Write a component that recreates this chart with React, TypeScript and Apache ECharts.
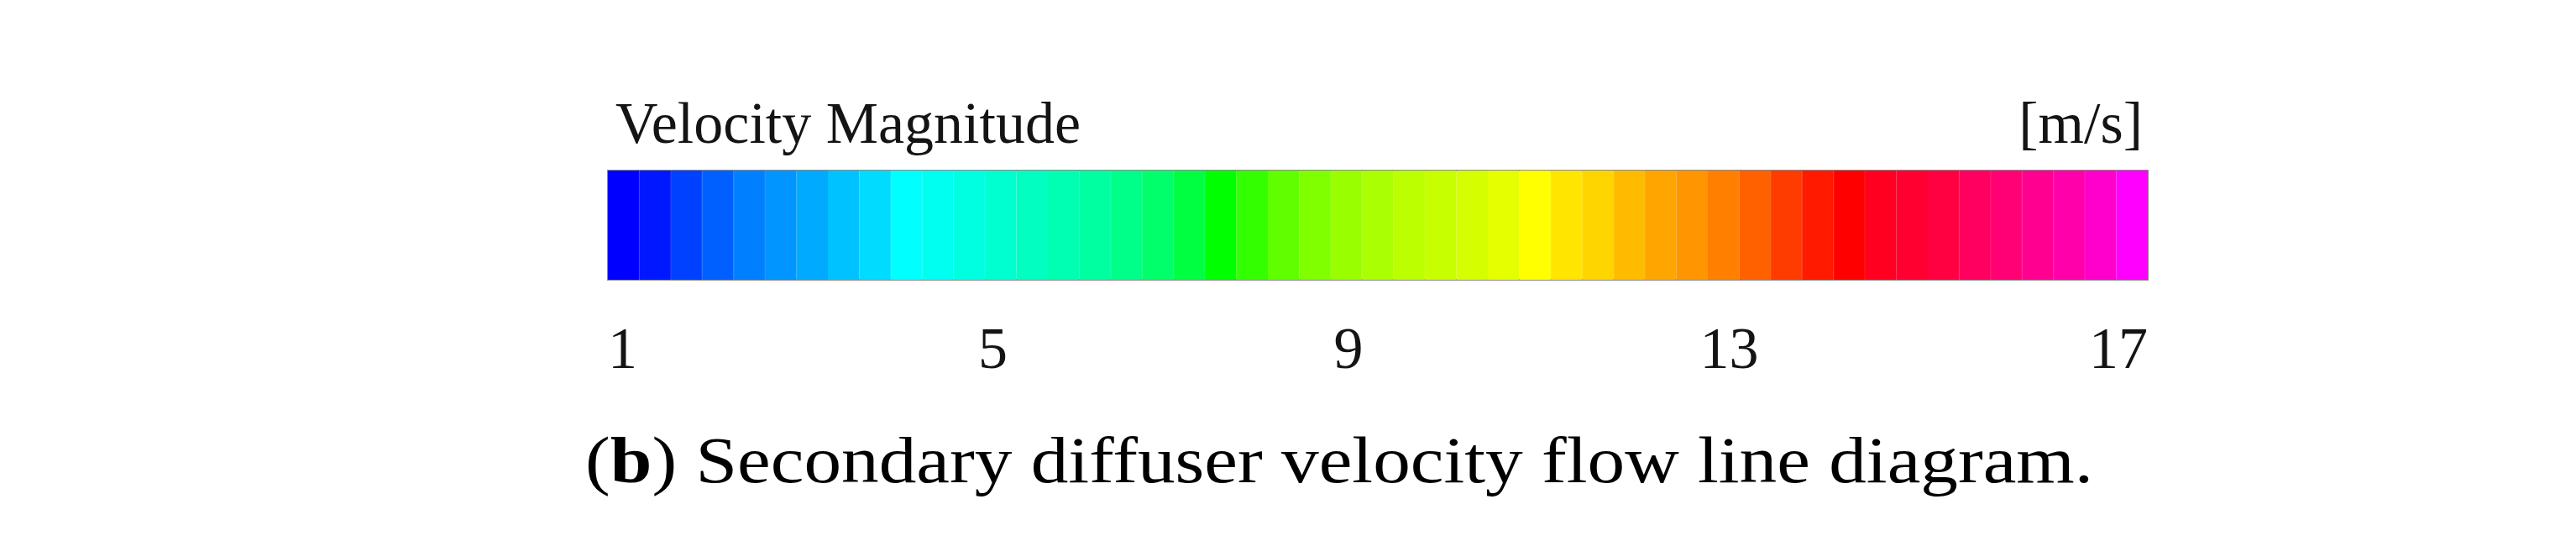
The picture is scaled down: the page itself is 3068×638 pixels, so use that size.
import React, { useEffect, useRef } from 'react';
import * as echarts from 'echarts';

const TITLE = 'Velocity Magnitude';
const UNIT = '[m/s]';
const CAPTION_LABEL = 'b';
const CAPTION_TEXT = ' Secondary diffuser velocity flow line diagram.';
const RANGE_MIN = 1;
const RANGE_MAX = 17;
const tickValues = [1, 5, 9, 13, 17];

// 49 stepped colour bands of the legend, read left to right
const bandColors = [
  '#0000ff', '#0018ff', '#0040ff', '#0060ff', '#0080ff', '#0095ff', '#00aaff', '#00c2ff', '#00dcff', '#00ffff',
  '#00fff0', '#00ffe0', '#00ffd0', '#00ffc0', '#00ffb0', '#00ffa0', '#00ff88', '#00ff6a', '#00ff40', '#00ff00',
  '#33ff00', '#60ff00', '#80ff00', '#99ff00', '#aaff00', '#bbff00', '#c8ff00', '#d5ff00', '#e6ff00', '#ffff00',
  '#ffe600', '#ffd500', '#ffbb00', '#ffa500', '#ff9500', '#ff7f00', '#ff6000', '#ff3c00', '#ff1a00', '#ff0000',
  '#ff0020', '#ff0030', '#ff0040', '#ff0060', '#ff0075', '#ff0090', '#ff00aa', '#ff00cc', '#ff00ff',
];
const bandCategories = [
  'B1', 'B2', 'B3', 'B4', 'B5', 'B6', 'B7', 'B8', 'B9', 'B10',
  'B11', 'B12', 'B13', 'B14', 'B15', 'B16', 'B17', 'B18', 'B19', 'B20',
  'B21', 'B22', 'B23', 'B24', 'B25', 'B26', 'B27', 'B28', 'B29', 'B30',
  'B31', 'B32', 'B33', 'B34', 'B35', 'B36', 'B37', 'B38', 'B39', 'B40',
  'B41', 'B42', 'B43', 'B44', 'B45', 'B46', 'B47', 'B48', 'B49',
];
const bandLevels = [
  1, 1, 1, 1, 1, 1, 1, 1, 1, 1,
  1, 1, 1, 1, 1, 1, 1, 1, 1, 1,
  1, 1, 1, 1, 1, 1, 1, 1, 1, 1,
  1, 1, 1, 1, 1, 1, 1, 1, 1, 1,
  1, 1, 1, 1, 1, 1, 1, 1, 1,
];

const SERIF = "'Liberation Serif', 'Times New Roman', serif";

export default function App() {
  const ref = useRef<HTMLDivElement>(null);

  useEffect(() => {
    if (!ref.current) return;
    const chart = echarts.init(ref.current, undefined, { renderer: 'svg' });
    const labelStyle = {
      fontFamily: SERIF,
      fontSize: 70,
      fontWeight: 'normal' as const,
      color: '#141414',
    };
    chart.setOption({
      animation: false,
      backgroundColor: '#ffffff',
      title: [
        { text: TITLE, left: 733, top: 111, padding: 0, textStyle: labelStyle },
        { text: UNIT, right: 516, top: 111, padding: 0, textStyle: labelStyle },
      ],
      grid: {
        left: 724,
        right: 510,
        top: 203,
        height: 130,
        show: true,
        borderColor: '#8c8c8c',
        borderWidth: 2,
        backgroundColor: 'transparent',
      },
      xAxis: [
        { type: 'category', data: bandCategories, show: false, boundaryGap: true },
        {
          type: 'value',
          min: RANGE_MIN,
          max: RANGE_MAX,
          position: 'bottom',
          axisLine: { show: false },
          axisTick: { show: false },
          splitLine: { show: false },
          axisLabel: {
            customValues: tickValues,
            ...labelStyle,
            margin: 46,
            alignMinLabel: 'left',
            alignMaxLabel: 'right',
            formatter: (v: number) => {
              const n = Number(v);
              if (n === tickValues[2]) return '{n|' + n + '}{s1|}';
              if (n === tickValues[3]) return '{n|' + n + '}{s2|}';
              return String(n);
            },
            rich: {
              n: { ...labelStyle },
              s1: { width: 70, height: 10 },
              s2: { width: 80, height: 10 },
            },
          },
        },
      ],
      yAxis: { type: 'value', min: 0, max: 1, show: false },
      series: [
        {
          type: 'bar',
          xAxisIndex: 0,
          barCategoryGap: '0%',
          barGap: '0%',
          silent: true,
          data: bandLevels.map((v, i) => ({
            value: v,
            itemStyle: { color: bandColors[i], borderColor: bandColors[i], borderWidth: 1 },
          })),
        },
      ],
      graphic: [
        {
          type: 'text',
          x: 697,
          y: 547,
          scaleX: 1.145,
          style: {
            text: '{p|(}{bb|' + CAPTION_LABEL + '}{p|)' + CAPTION_TEXT + '}',
            fill: '#000',
            fontFamily: SERIF,
            fontSize: 78,
            textAlign: 'left',
            verticalAlign: 'middle',
            rich: {
              p: { fontFamily: SERIF, fontSize: 78, fill: '#000' },
              bb: { fontFamily: SERIF, fontSize: 78, fontWeight: 'bold', fill: '#000' },
            },
          },
        },
      ],
    });
    return () => chart.dispose();
  }, []);

  return (
    <div
      ref={ref}
      style={{ position: 'fixed', left: 0, top: 0, width: 3068, height: 638, background: '#fff' }}
    />
  );
}
